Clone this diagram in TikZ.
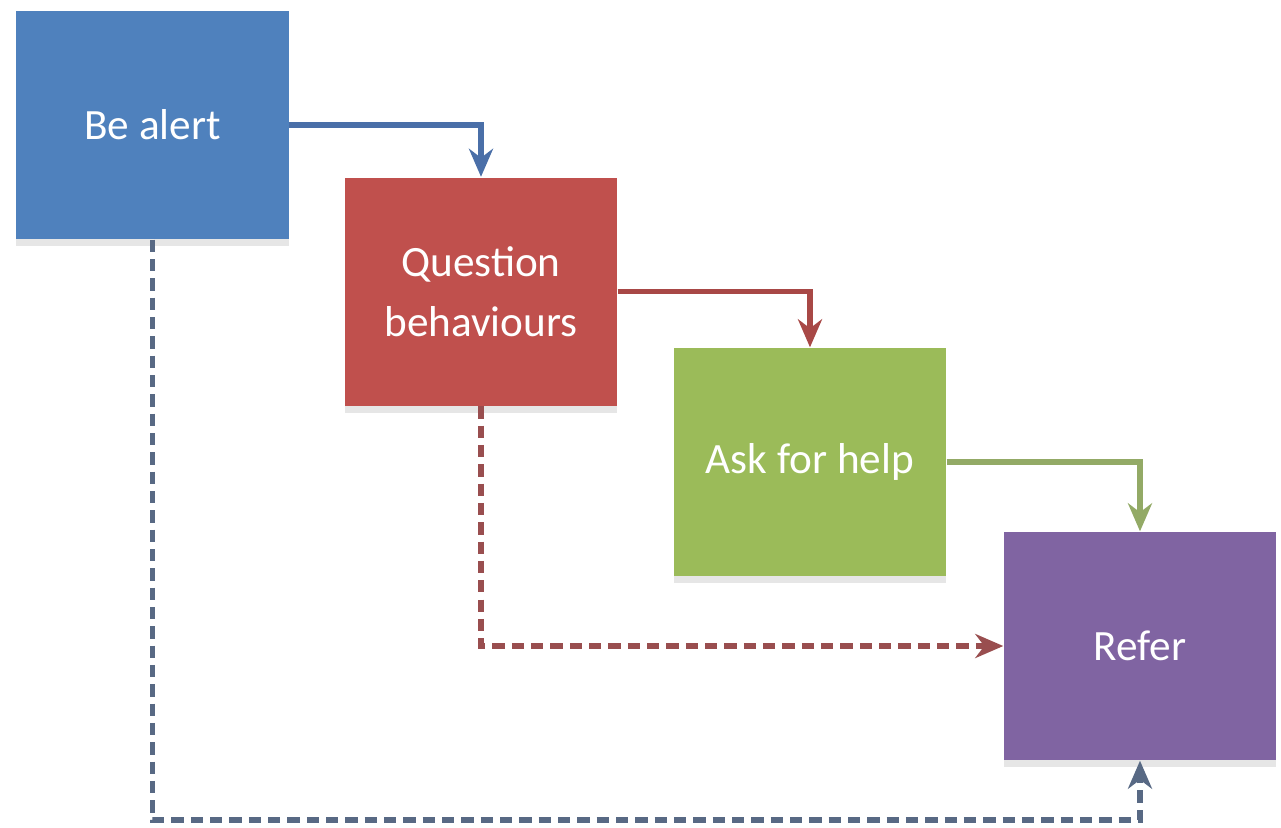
\documentclass[tikz,border=0pt]{standalone}
\usepackage{fontspec}
\setmainfont{Carlito}
\usetikzlibrary{arrows.meta,shadows}

\definecolor{alertblue}{HTML}{4F81BD}
\definecolor{questred}{HTML}{C0504D}
\definecolor{askgreen}{HTML}{9BBB59}
\definecolor{referpurple}{HTML}{8064A2}
\definecolor{bluearrow}{HTML}{4A6FA8}
\definecolor{redarrow}{HTML}{A84846}
\definecolor{greenarrow}{HTML}{93AA66}
\definecolor{dashgray}{HTML}{5E6675}

\begin{document}
\begin{tikzpicture}[
  box/.style={rectangle,minimum width=2.72cm,minimum height=2.28cm,
    text=white,align=center,font=\fontsize{12.3}{17}\selectfont,
    drop shadow={opacity=0.2,shadow xshift=0pt,shadow yshift=-0.07cm}},
  link/.style={line width=1.6pt,-{Stealth[length=2.8mm,width=2.4mm,inset=0.9mm]}},
  skip/.style={link,dash pattern=on 3.5pt off 2pt}
 ]
 \useasboundingbox (0,0) rectangle (12.81,-8.27);
 \node[box,fill=alertblue] (alert) at (1.525,-1.25) {Be alert};
 \node[box,fill=questred] (question) at (4.81,-2.915) {Question\\behaviours};
 \node[box,fill=askgreen] (ask) at (8.10,-4.62) {Ask for help};
 \node[box,fill=referpurple] (refer) at (11.40,-6.46) {Refer};
 \coordinate (bend) at (11.40,-8.20);
 \draw [link,bluearrow] (alert.east) -| (question.north);
 \draw [link,redarrow] (question.east) -| (ask.north);
 \draw [link,greenarrow] (ask.east) -| (refer.north);
 % shortcuts
 \draw [skip,redarrow!80!dashgray] (question.south) |- (refer.west);
 \draw [skip,dashgray!70!bluearrow] (alert.south) |- (bend) -- (refer.south);
\end{tikzpicture}
\end{document}
